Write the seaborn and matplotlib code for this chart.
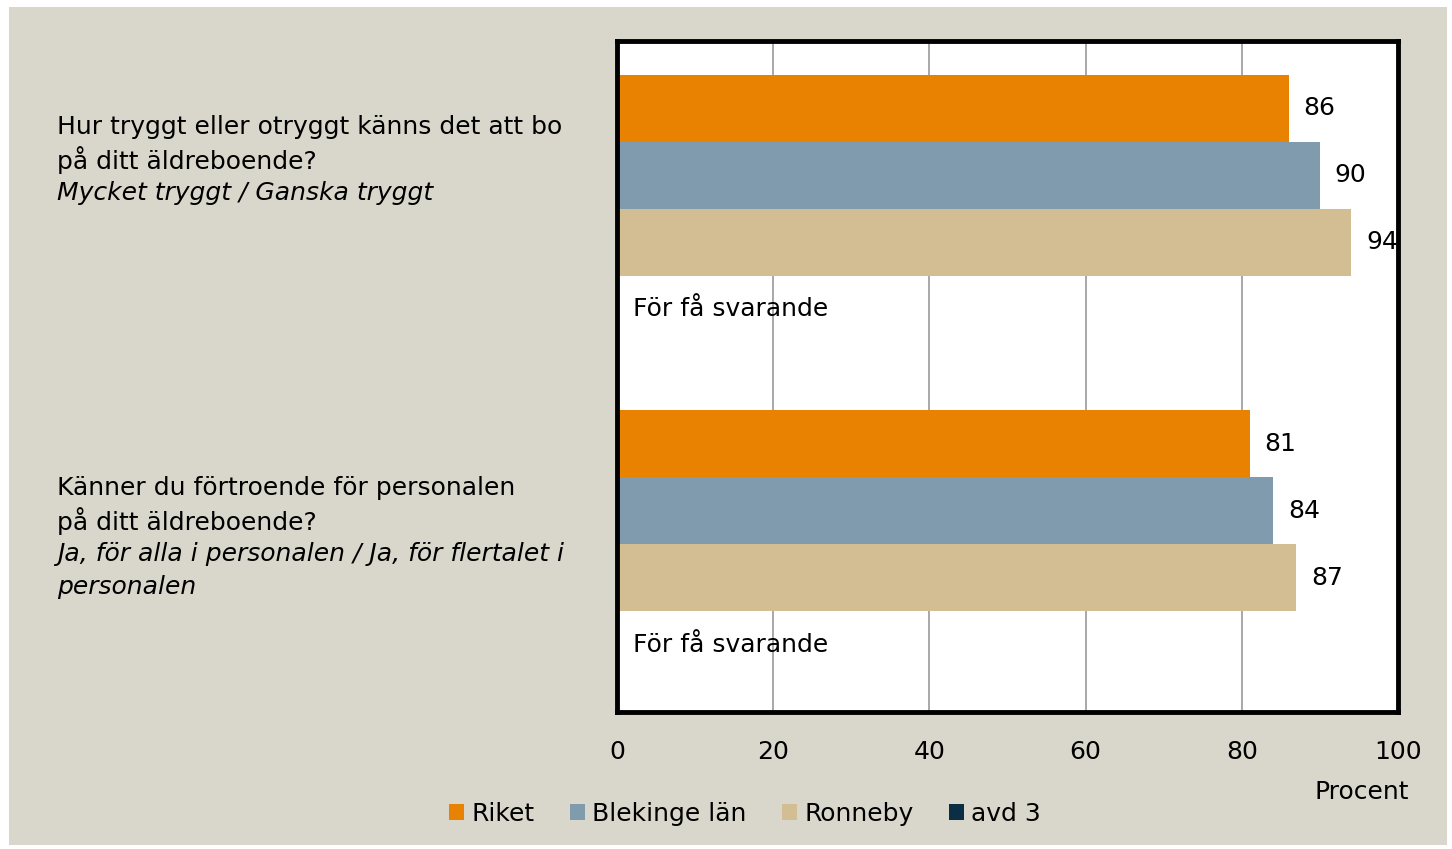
import matplotlib
matplotlib.use("Agg")
import matplotlib.pyplot as plt
import matplotlib.patches as mpatches
import numpy as np
import pandas as pd
import seaborn as sns

# Data
questions = ["Trygghet", "Förtroende"]
groups = ["Riket", "Blekinge län", "Ronneby", "avd 3"]
riket = [86, 81]
blekinge = [90, 84]
ronneby = [94, 87]
avd3 = [np.nan, np.nan]  # för få svarande
colors = ["#E88200", "#7F9BAD", "#D3BE94", "#0B2D45"]
xticks = [0, 20, 40, 60, 80, 100]
few_text = "För få svarande"

label_lines = [
    ["Hur tryggt eller otryggt känns det att bo", "på ditt äldreboende?"],
    ["Känner du förtroende för personalen", "på ditt äldreboende?"],
]
label_italic = [
    ["Mycket tryggt / Ganska tryggt"],
    ["Ja, för alla i personalen / Ja, för flertalet i", "personalen"],
]

bg = "#D9D7CB"
fs = 18

df = pd.DataFrame({
    "question": np.repeat(questions, len(groups)),
    "group": groups * len(questions),
    "value": np.ravel(np.column_stack([riket, blekinge, ronneby, avd3])),
})

sns.set_style("white")
plt.rcParams["font.family"] = ["DejaVu Sans"]
plt.rcParams["text.color"] = "black"
plt.rcParams["xtick.color"] = "black"

fig = plt.figure(figsize=(14.52, 8.49), dpi=100, facecolor="white")
fig.patches.append(mpatches.Rectangle((9 / 1452, 4 / 849), 1438 / 1452, 838 / 849,
                                      transform=fig.transFigure, facecolor=bg,
                                      edgecolor="none", zorder=-10))
ax = fig.add_axes([617 / 1452, 1 - 712 / 849, 781 / 1452, 671 / 849])
ax.set_facecolor("white")

sns.barplot(data=df, x="value", y="question", hue="group", hue_order=groups,
            order=questions, palette=colors, orient="h", width=0.8,
            dodge=True, ax=ax, legend=False, saturation=1, errorbar=None,
            linewidth=0)

ax.set_xlim(0, 100)
ax.set_ylim(1.5, -0.5)
ax.set_xticks(xticks)
ax.set_xticklabels([str(t) for t in xticks], fontsize=fs)
ax.tick_params(axis="x", length=0, pad=20)
ax.set_yticks([])
ax.set_xlabel("")
ax.set_ylabel("")
ax.grid(axis="x", color="#9A9A9A", linewidth=1.2)
ax.set_axisbelow(True)
for s in ax.spines.values():
    s.set_visible(True)
    s.set_color("black")
    s.set_linewidth(3.5)

# value labels
for cont in ax.containers:
    for bar in cont:
        w = bar.get_width()
        if np.isnan(w) or w == 0:
            continue
        ax.text(w + 1.9, bar.get_y() + bar.get_height() / 2, f"{w:.0f}",
                va="center", ha="left", fontsize=fs, clip_on=False, zorder=1)

# "too few respondents" in the avd 3 slot
for i in range(len(questions)):
    ax.text(2.0, i + 0.3, few_text, va="center", ha="left", fontsize=fs)

# category labels left of the plot
line_h = 33 / 849
starts = [1 - 127 / 849, 1 - 488 / 849]
for i in range(len(questions)):
    y = starts[i]
    for line in label_lines[i]:
        fig.text(57 / 1452, y, line, va="center", ha="left", fontsize=fs)
        y -= line_h
    for line in label_italic[i]:
        fig.text(57 / 1452, y, line, va="center", ha="left", fontsize=fs,
                 style="italic")
        y -= line_h

fig.text(1362 / 1452, 1 - 792 / 849, "Procent", ha="center", va="center",
         fontsize=fs)

handles = [mpatches.Patch(facecolor=c, edgecolor="none") for c in colors]
fig.legend(handles, groups, loc="center", bbox_to_anchor=(745 / 1452, 1 - 814 / 849),
           ncol=4, frameon=False, fontsize=fs, handlelength=0.6, handleheight=0.6,
           handletextpad=0.3, columnspacing=1.4)

fig.savefig("out.png", dpi=100, facecolor="white")
